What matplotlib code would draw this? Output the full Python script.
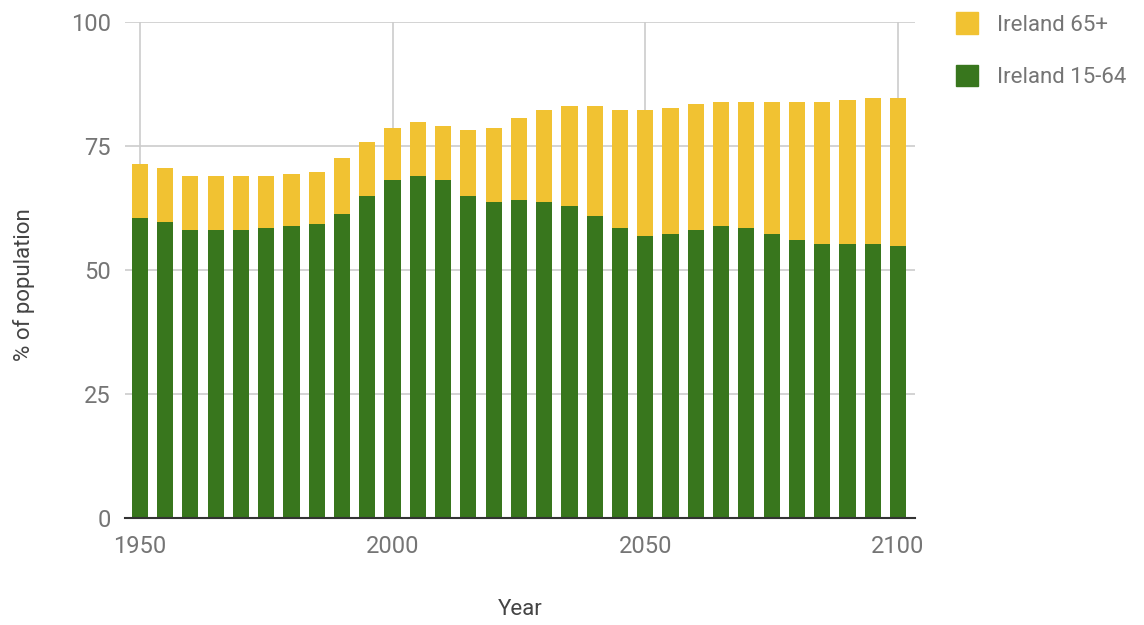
import numpy as np
import matplotlib.pyplot as plt
from matplotlib.patches import Patch

plt.rcParams['font.family'] = ['Roboto', 'DejaVu Sans']

years = np.arange(1950, 2101, 5)
total = [71.4, 70.5, 69.0, 69.0, 69.0, 69.0, 69.4, 69.8, 72.6, 75.8,
         78.6, 79.8, 79.0, 78.2, 78.6, 80.6, 82.2, 83.0, 83.0, 82.2,
         82.2, 82.6, 83.4, 83.8, 83.8, 83.8, 83.8, 83.8, 84.3, 84.7, 84.7]
age_15_64 = [60.5, 59.7, 58.1, 58.1, 58.1, 58.5, 58.9, 59.3, 61.3, 64.9,
             68.1, 69.0, 68.1, 64.9, 63.7, 64.1, 63.7, 62.9, 60.9, 58.5,
             56.9, 57.3, 58.1, 58.9, 58.5, 57.3, 56.1, 55.3, 55.3, 55.3, 54.9]
age_65_plus = [t - w for t, w in zip(total, age_15_64)]

green = '#38761d'
yellow = '#f1c232'
grey_text = '#757575'

fig = plt.figure(figsize=(11.44, 6.25), dpi=100)
ax = fig.add_axes([0.109, 0.171, 0.691, 0.794])

ax.bar(years, age_15_64, width=3.2, color=green, zorder=3)
ax.bar(years, age_65_plus, width=3.2, bottom=age_15_64, color=yellow, zorder=3)

ax.set_xlim(1947.0, 2103.4)
ax.set_ylim(0, 100)
ax.set_xticks([1950, 2000, 2050, 2100])
ax.set_yticks([0, 25, 50, 75, 100])
ax.grid(True, color='#cccccc', linewidth=1.2, zorder=0)
ax.tick_params(length=0, labelsize=17, labelcolor=grey_text, pad=10)
ax.tick_params(axis='x', pad=12)

for side in ['top', 'right', 'left']:
    ax.spines[side].set_visible(False)
ax.spines['bottom'].set_color('#333333')
ax.spines['bottom'].set_linewidth(1.5)
ax.spines['bottom'].set_zorder(4)

ax.set_xlabel('Year', fontsize=16, color='#444444')
ax.set_ylabel('% of population', fontsize=16, color='#444444')
ax.xaxis.set_label_coords(0.5, -0.162)
ax.yaxis.set_label_coords(-0.114, 0.47)

handles = [Patch(color=yellow, label='Ireland 65+'),
           Patch(color=green, label='Ireland 15-64')]
leg = fig.legend(handles=handles, loc='upper left', bbox_to_anchor=(0.818, 1.012),
                 frameon=False, fontsize=16, handlelength=1.0, handleheight=1.1,
                 labelspacing=1.3, handletextpad=0.85)
for t in leg.get_texts():
    t.set_color(grey_text)

fig.savefig('out.png', dpi=100)
